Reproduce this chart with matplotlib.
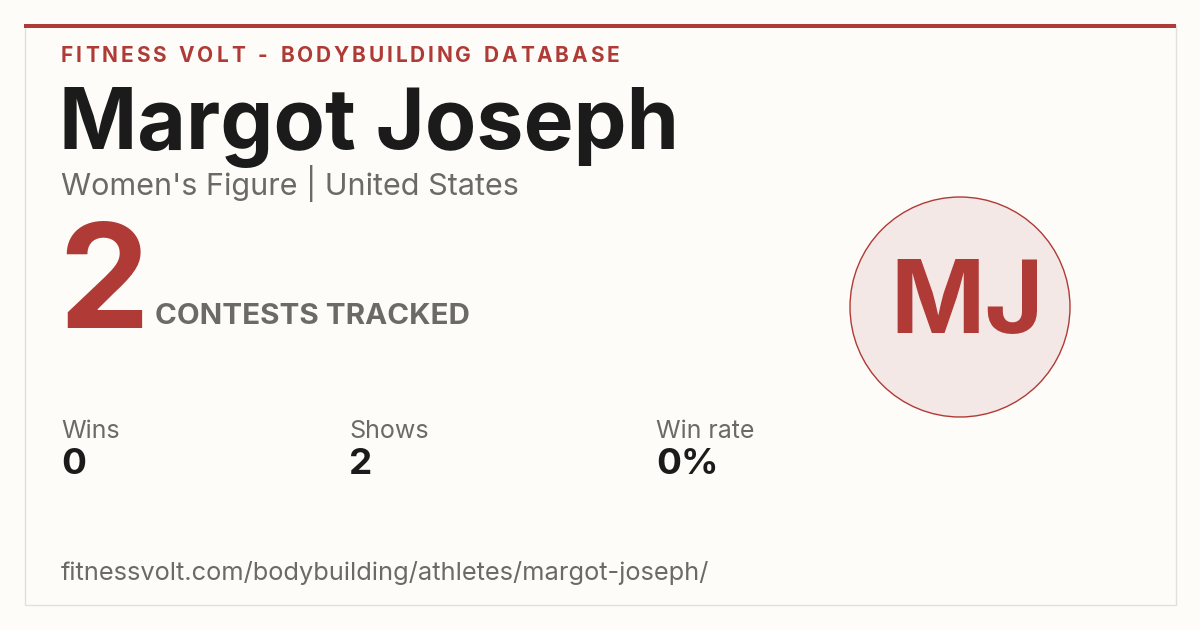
import matplotlib
matplotlib.use("Agg")
import matplotlib.pyplot as plt
from matplotlib.patches import Rectangle, Circle

# card data
site = "FITNESS VOLT - BODYBUILDING DATABASE"
athlete = "Margot Joseph"
division = "Women's Figure | United States"
initials = "MJ"
contests = 2
stat_labels = ["Wins", "Shows", "Win rate"]
stat_values = ["0", "2", "0%"]
stat_x = [61, 349, 656]
url = "fitnessvolt.com/bodybuilding/athletes/margot-joseph/"

RED = "#b03a36"
BG = "#fdfcf8"
GRAY = "#6b6a65"
DARK = "#1b1b1b"
FONT = ["Inter", "DejaVu Sans"]

fig = plt.figure(figsize=(12, 6.3), dpi=100)
fig.patch.set_facecolor(BG)
ax = fig.add_axes([0, 0, 1, 1])
ax.set_xlim(0, 1200)
ax.set_ylim(630, 0)
ax.axis("off")

# card frame
ax.add_patch(Rectangle((24.5, 24.5), 1151, 580, fill=False, ec="#e2e0da", lw=1))
ax.add_patch(Rectangle((24, 24), 1152, 4, color=RED, lw=0))


def spaced(x, y, s, spacing, **kw):
    r = fig.canvas.get_renderer()
    for ch in s:
        t = ax.text(x, y, ch, va="baseline", **kw)
        bb = t.get_window_extent(renderer=r)
        if ch == " ":
            w = kw.get("fontsize", 10) * 0.35 * 100 / 72
        else:
            w = bb.width
        x += w + spacing


spaced(61, 62, site, 2.85, fontsize=15, fontweight="bold", color=RED, family=FONT)
ax.text(59, 149, athlete, fontsize=60.5, fontweight="bold", color=DARK, va="baseline", family=FONT)
ax.text(61, 195, division, fontsize=22, color=GRAY, va="baseline", family=FONT)
ax.text(58, 328, str(contests), fontsize=104, fontweight="bold", color=RED, va="baseline", family=FONT)
ax.text(155, 324, "CONTESTS TRACKED", fontsize=21.3, fontweight="bold", color=GRAY, va="baseline", family=FONT)

ax.add_patch(Circle((960, 307), 110, fc="#f4e8e7", ec=RED, lw=1.0))
ax.text(967, 333, initials, fontsize=73, fontweight="bold", color=RED, ha="center", va="baseline", family=FONT)

for x, lab, val in zip(stat_x, stat_labels, stat_values):
    ax.text(x, 438, lab, fontsize=18, color=GRAY, va="baseline", family=FONT)
    ax.text(x, 474, val, fontsize=26.5, fontweight="bold", color=DARK, va="baseline", family=FONT)

ax.text(61, 580, url, fontsize=18.3, color=GRAY, va="baseline", family=FONT)

fig.savefig("out.png", dpi=100, facecolor=BG)
